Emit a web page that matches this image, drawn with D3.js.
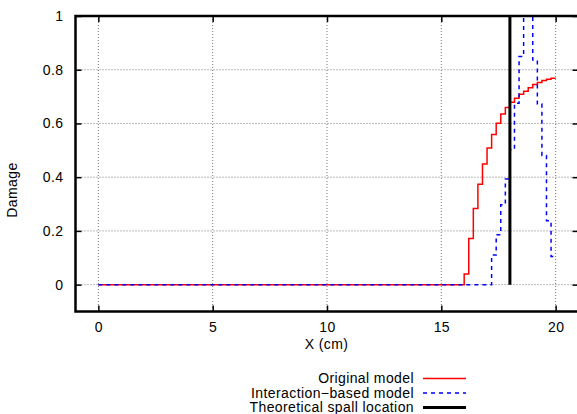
<!DOCTYPE html>
<meta charset="utf-8">
<style>

body {
  margin: 0;
  background: #fff;
}

text {
  font: 14px "Liberation Sans", Arial, sans-serif;
  letter-spacing: 0.4px;
  fill: #000;
}

.grid line {
  stroke: #777;
  stroke-width: 1;
  stroke-dasharray: 1,2;
}

.axis path {
  display: none;
}

.axis line {
  stroke: #000;
  stroke-width: 1.5;
}

</style>
<svg width="577" height="414"></svg>
<script src="https://d3js.org/d3.v7.min.js"></script>
<script>

// step data: each x is the start of a bin (gnuplot "steps")
var originalX = [0, 16.0, 16.2, 16.4, 16.6, 16.8, 17.0, 17.2, 17.4, 17.6, 17.8, 18.0, 18.2, 18.4, 18.6, 18.8, 19.0, 19.2, 19.4, 19.6, 19.8, 20.0];
var originalDamage = [0, 0.04, 0.172, 0.283, 0.374, 0.449, 0.509, 0.559, 0.601, 0.635, 0.659, 0.679, 0.694, 0.709, 0.720, 0.733, 0.745, 0.752, 0.760, 0.765, 0.768, 0.768];

var interactionX = [0, 17.2, 17.4, 17.6, 17.8, 18.0, 18.2, 18.4, 18.6, 18.8, 19.0, 19.2, 19.4, 19.6, 19.8, 20.0];
var interactionDamage = [0, 0.110, 0.186, 0.297, 0.393, 0.502, 0.675, 0.849, 1.0, 1.0, 0.836, 0.672, 0.481, 0.238, 0.105, 0.105];

var spallLocation = 18;

var xTicks = [0, 5, 10, 15, 20],
    yTicks = [0, 0.2, 0.4, 0.6, 0.8, 1];

var legendLabels = ["Original model", "Interaction\u2212based model", "Theoretical spall location"];

var svg = d3.select("svg");

var x = d3.scaleLinear().domain([-1, 21]).range([75.5, 578.5]),
    y = d3.scaleLinear().domain([-0.1, 1]).range([311.5, 16]);

var plotLeft = x.range()[0], plotRight = x.range()[1],
    plotTop = y.range()[1], plotBottom = y.range()[0];

svg.append("defs").append("clipPath")
    .attr("id", "plot")
  .append("rect")
    .attr("x", plotLeft)
    .attr("y", plotTop)
    .attr("width", plotRight - plotLeft)
    .attr("height", plotBottom - plotTop);

// grid
var grid = svg.append("g").attr("class", "grid");

grid.selectAll(".gx")
    .data(xTicks)
  .enter().append("line")
    .attr("x1", function(d) { return x(d); })
    .attr("x2", function(d) { return x(d); })
    .attr("y1", plotTop)
    .attr("y2", plotBottom);

grid.selectAll(".gy")
    .data(yTicks.filter(function(d) { return d < 1; }))
  .enter().append("line")
    .attr("x1", plotLeft)
    .attr("x2", plotRight)
    .attr("y1", function(d) { return y(d); })
    .attr("y2", function(d) { return y(d); });

// series
var line = d3.line()
    .curve(d3.curveStepAfter)
    .x(function(d) { return x(d[0]); })
    .y(function(d) { return y(d[1]); });

var plot = svg.append("g").attr("clip-path", "url(#plot)");

plot.append("path")
    .datum(d3.zip(originalX, originalDamage))
    .attr("fill", "none")
    .attr("stroke", "#ff0000")
    .attr("stroke-width", 1.5)
    .attr("d", line);

plot.append("path")
    .datum(d3.zip(interactionX, interactionDamage))
    .attr("fill", "none")
    .attr("stroke", "#0000ff")
    .attr("stroke-width", 1.5)
    .attr("stroke-dasharray", "4,4")
    .attr("d", line);

plot.append("line")
    .attr("x1", x(spallLocation))
    .attr("x2", x(spallLocation))
    .attr("y1", y(0))
    .attr("y2", plotTop)
    .attr("stroke", "#000")
    .attr("stroke-width", 3);

// axes, ticks pointing inward and mirrored
var fmt = d3.format("");

svg.append("g")
    .attr("class", "axis")
    .attr("transform", "translate(0," + plotBottom + ")")
    .call(d3.axisBottom(x).tickValues(xTicks).tickFormat(fmt).tickSize(-6).tickPadding(11));

svg.append("g")
    .attr("class", "axis")
    .attr("transform", "translate(0," + plotTop + ")")
    .call(d3.axisTop(x).tickValues(xTicks).tickSize(-6).tickFormat(""));

svg.append("g")
    .attr("class", "axis")
    .attr("transform", "translate(" + plotLeft + ",0)")
    .call(d3.axisLeft(y).tickValues(yTicks).tickFormat(fmt).tickSize(-6).tickPadding(12));

svg.append("g")
    .attr("class", "axis")
    .attr("transform", "translate(" + plotRight + ",0)")
    .call(d3.axisRight(y).tickValues(yTicks).tickSize(-6).tickFormat(""));

svg.append("rect")
    .attr("x", plotLeft)
    .attr("y", plotTop)
    .attr("width", plotRight - plotLeft)
    .attr("height", plotBottom - plotTop)
    .attr("fill", "none")
    .attr("stroke", "#000")
    .attr("stroke-width", 2.5);

// axis titles
svg.append("text")
    .attr("x", 326.5)
    .attr("y", 348.5)
    .attr("text-anchor", "middle")
    .text("X (cm)");

svg.append("text")
    .attr("transform", "translate(16.5,190) rotate(-90)")
    .attr("text-anchor", "middle")
    .text("Damage");

// legend
var legend = svg.append("g");

var row = legend.selectAll("g")
    .data(legendLabels)
  .enter().append("g")
    .attr("transform", function(d, i) { return "translate(0," + (378.5 + i * 14.5) + ")"; });

row.append("text")
    .attr("x", 414)
    .attr("dy", "0.35em")
    .attr("text-anchor", "end")
    .text(function(d) { return d; });

row.append("line")
    .attr("x1", 423)
    .attr("x2", 466)
    .attr("stroke", function(d, i) { return ["#ff0000", "#0000ff", "#000"][i]; })
    .attr("stroke-width", function(d, i) { return i == 2 ? 3 : 1.5; })
    .attr("stroke-dasharray", function(d, i) { return i == 1 ? "4,4" : null; });

</script>
